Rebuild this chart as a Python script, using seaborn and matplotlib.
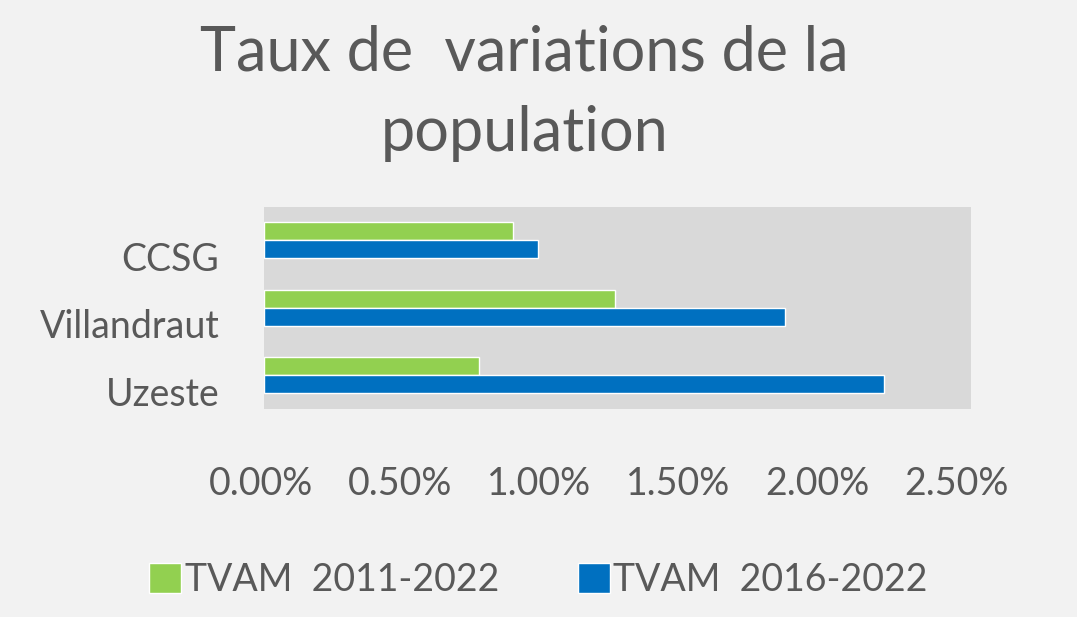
import pandas as pd
import matplotlib
matplotlib.use("Agg")
import matplotlib.pyplot as plt
import matplotlib.transforms as mtransforms
import seaborn as sns
from matplotlib.ticker import FuncFormatter

communes = ["CCSG", "Villandraut", "Uzeste"]
series = ["TVAM  2011-2022", "TVAM  2016-2022"]
tvam_2011_2022 = [0.0088, 0.0124, 0.0076]
tvam_2016_2022 = [0.0097, 0.0184, 0.0219]
colors = ["#92d050", "#0070c0"]

df = pd.DataFrame({
    "commune": communes * 2,
    "serie": [series[0]] * 3 + [series[1]] * 3,
    "taux": tvam_2011_2022 + tvam_2016_2022,
})

sns.set_theme(style="white")
plt.rcParams["font.family"] = ["Lato", "DejaVu Sans"]
txt = "#595959"

fig = plt.figure(figsize=(10.77, 6.17), dpi=100, facecolor="#f2f2f2")
ax = fig.add_axes([0.245, 0.337, 0.657, 0.328])
ax.set_facecolor("#d9d9d9")

sns.barplot(data=df, y="commune", x="taux", hue="serie", order=communes,
            hue_order=series, palette=colors, width=0.535, orient="h",
            saturation=1, ax=ax, legend=True)

ax.set_xlim(0, 0.025)
ax.set_ylim(2.5, -0.5)
ax.set_xticks([0, 0.005, 0.01, 0.015, 0.02, 0.025])
ax.xaxis.set_major_formatter(FuncFormatter(lambda v, p: f"{v * 100:.2f}%"))
ax.set_xlabel("")
ax.set_ylabel("")
ax.tick_params(axis="x", length=0, pad=41, labelsize=27, labelcolor=txt)
ax.tick_params(axis="y", length=0, pad=32, labelsize=27, labelcolor=txt)
for s in ax.spines.values():
    s.set_visible(False)

# category labels sit a little below the bar groups, as in the original
shift = mtransforms.ScaledTranslation(0, -0.16, fig.dpi_scale_trans)
for lab in ax.get_yticklabels():
    lab.set_transform(lab.get_transform() + shift)
# x labels drift slightly left of their ticks in the original
for i, lab in enumerate(ax.get_xticklabels()):
    dx = mtransforms.ScaledTranslation(-0.03 - 0.025 * i, 0, fig.dpi_scale_trans)
    lab.set_transform(lab.get_transform() + dx)

handles, labels = ax.get_legend_handles_labels()
ax.get_legend().remove()
fig.legend(handles, labels, loc="center", bbox_to_anchor=(0.5, 0.06), ncol=2,
           frameon=False, fontsize=27, labelcolor=txt, handlelength=0.85,
           handleheight=0.85, handletextpad=0.1, columnspacing=2.1)

fig.text(0.487, 0.885, "Taux de  variations de la", ha="center", va="baseline",
         fontsize=44, color=txt)
fig.text(0.487, 0.755, "population", ha="center", va="baseline",
         fontsize=44, color=txt)

fig.savefig("out.png", dpi=100, facecolor=fig.get_facecolor())
